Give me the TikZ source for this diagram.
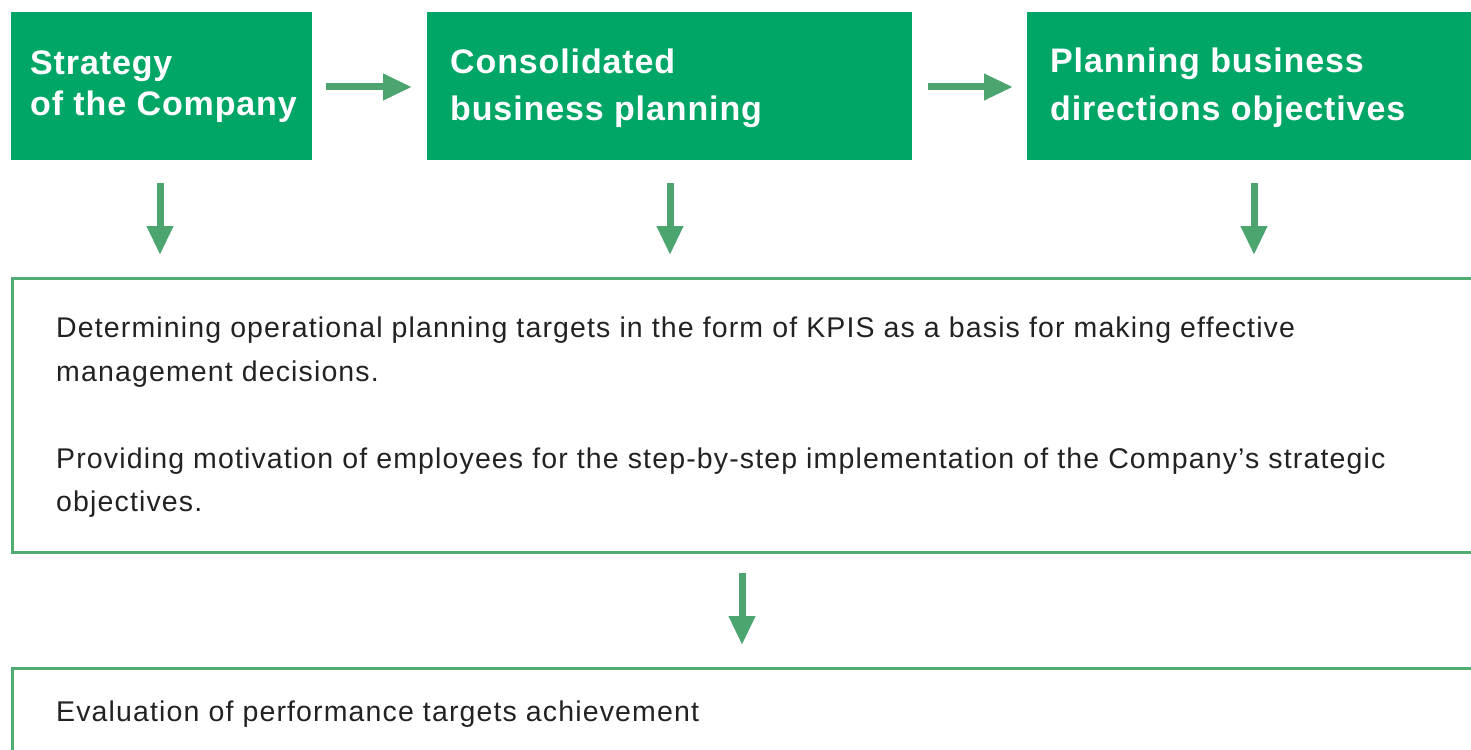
\documentclass[tikz,border=0pt]{standalone}
\usepackage{fontspec}
\setmainfont{Liberation Sans}
\newfontfamily\headfont[LetterSpace=2.6]{Liberation Sans}
\newfontfamily\bodyfont[LetterSpace=4.0]{Liberation Sans}
\usetikzlibrary{arrows.meta}
\definecolor{boxgreen}{RGB}{0,166,102}
\definecolor{arrgreen}{RGB}{76,165,110}
\definecolor{linegreen}{RGB}{80,172,115}
\definecolor{txtgray}{RGB}{34,34,34}
\tikzset{
  x=1pt, y=-1pt,
  greenbox/.style={fill=boxgreen, draw=none, inner sep=0pt, anchor=north west},
  outlinebox/.style={draw=linegreen, line width=3pt, fill=none, inner sep=0pt, anchor=north west},
  headtext/.style={anchor=base west, inner sep=0pt, text=white, font=\headfont\fontsize{34}{38}\selectfont\bfseries},
  bodytext/.style={anchor=base west, inner sep=0pt, text=txtgray, font=\bodyfont\fontsize{28.5}{32}\selectfont},
  flowarrow/.style={draw=arrgreen, line width=7pt, -{Triangle[length=29pt,width=25pt]}, shorten >=0pt},
}
\begin{document}
\begin{tikzpicture}
\useasboundingbox (0,0) rectangle (1471,749);
\clip (0,0) rectangle (1471,749);
% top green boxes
\node[greenbox, minimum width=301pt, minimum height=148pt] (b1) at (11,12) {};
\node[greenbox, minimum width=485pt, minimum height=148pt] (b2) at (427,12) {};
\node[greenbox, minimum width=500pt, minimum height=148pt] (b3) at (1027,12) {};
\node[headtext] (t1a) at (30,75) {Strategy};
\node[headtext] (t1b) at (30,116) {of the Company};
\node[headtext] (t2a) at (450,74) {Consolidated};
\node[headtext] (t2b) at (450,121) {business planning};
\node[headtext] (t3a) at (1050,73) {Planning business};
\node[headtext] (t3b) at (1050,121) {directions objectives};
% outline boxes
\node[outlinebox, minimum width=1550pt, minimum height=274pt] (m) at (11,277) {};
\node[outlinebox, minimum width=1550pt, minimum height=200pt] (e) at (11,667) {};
\node[bodytext] (p1a) at (56,337) {Determining operational planning targets in the form of KPIS as a basis for making effective};
\node[bodytext] (p1b) at (56,381) {management decisions.};
\node[bodytext] (p2a) at (56,468) {Providing motivation of employees for the step-by-step implementation of the Company’s strategic};
\node[bodytext] (p2b) at (56,511) {objectives.};
\node[bodytext] (p3) at (56,721) {Evaluation of performance targets achievement};
% arrow end points
\coordinate (h1s) at (326,87); \coordinate (h1e) at (412,87);
\coordinate (h2s) at (928,87); \coordinate (h2e) at (1013,87);
\coordinate (d1s) at (160,183); \coordinate (d1e) at (160,255);
\coordinate (d2s) at (670,183); \coordinate (d2e) at (670,255);
\coordinate (d3s) at (1254,183); \coordinate (d3e) at (1254,255);
\coordinate (d4s) at (742,573); \coordinate (d4e) at (742,645);
\draw[flowarrow] (h1s) -- (h1e);
\draw[flowarrow] (h2s) -- (h2e);
\draw[flowarrow] (d1s) -- (d1e);
\draw[flowarrow] (d2s) -- (d2e);
\draw[flowarrow] (d3s) -- (d3e);
\draw[flowarrow] (d4s) -- (d4e);
\end{tikzpicture}
\end{document}
